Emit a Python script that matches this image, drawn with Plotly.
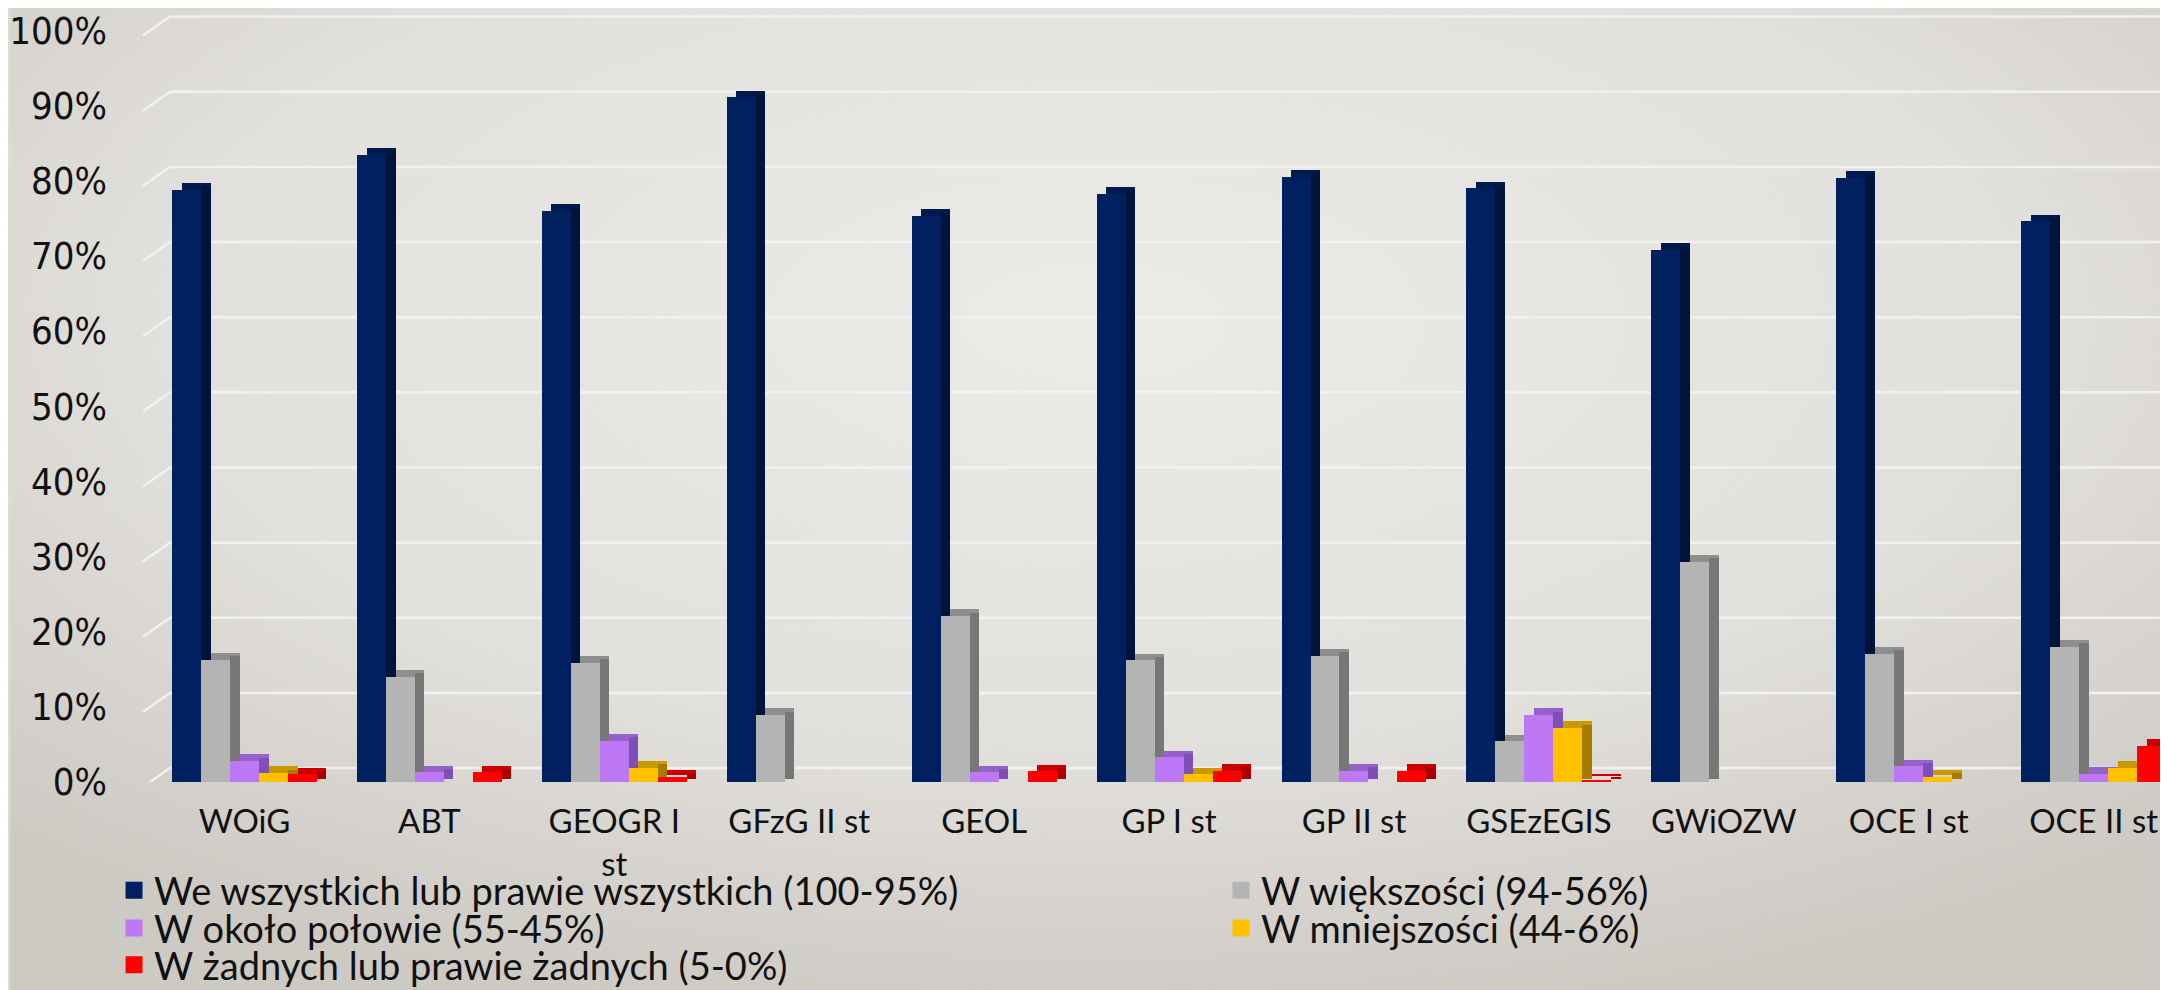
import base64
import plotly.graph_objects as go

# ---------------- data ----------------
categories = ["WOiG", "ABT", "GEOGR I<br>st", "GFzG II st", "GEOL", "GP I st",
              "GP II st", "GSEzEGIS", "GWiOZW", "OCE I st", "OCE II st"]

series_names = [
    "We wszystkich lub prawie wszystkich (100-95%)",
    "W większości (94-56%)",
    "W około połowie (55-45%)",
    "W mniejszości (44-6%)",
    "W żadnych lub prawie żadnych (5-0%)",
]

v_all      = [78.8, 83.5, 76.0, 91.1, 75.3, 78.3, 80.5, 79.0, 70.8, 80.4, 74.6]
v_most     = [16.3, 14.0, 15.9, 8.9, 22.1, 16.2, 16.8, 5.4, 29.3, 17.1, 18.0]
v_half     = [2.8, 1.3, 5.5, None, 1.3, 3.3, 1.5, 8.9, None, 2.1, 1.1]
v_minority = [1.2, None, 1.9, None, None, 1.0, None, 7.2, None, 0.7, 1.9]
v_none     = [1.0, 1.3, 0.7, None, 1.4, 1.5, 1.5, 0.2, None, None, 4.8]

y_ticks = list(range(0, 101, 10))
y_tick_labels = [f"{t}%" for t in y_ticks]

# ---------------- style ----------------
front_colors = ["#002060", "#b4b4b4", "#bf78f5", "#ffc000", "#ff0000"]
top_colors   = ["#001a4e", "#8e8e8e", "#9562cc", "#c99a00", "#cc0000"]
side_colors  = ["#00133a", "#777777", "#7f4fb5", "#a67c00", "#ad0000"]

FONT = "Lato, 'Liberation Sans', Arial, sans-serif"
TICK_FONT = "'Liberation Sans Narrow', 'DejaVu Sans Condensed', Lato, sans-serif"
W_FIG, H_FIG = 2168, 990
Y_MAX = 102.2
PX_PER_PCT = 7.55
M_L, M_R, M_B = 142, 1, 212
PLOT_H = PX_PER_PCT * Y_MAX
M_T = H_FIG - M_B - PLOT_H
PLOT_W = W_FIG - M_L - M_R
X_RANGE = [-0.5, 10.44]
px_per_unit = PLOT_W / (X_RANGE[1] - X_RANGE[0])

BAR_W = 29 / px_per_unit          # bar width in category units
DX = 9.6 / px_per_unit            # 3D depth (horizontal)
DY = 6.7 / PX_PER_PCT             # 3D depth (vertical, in %)
GRID_BACK = 14 / PX_PER_PCT       # back-wall gridline lift (3D look)
GRID_FRONT = -5 / PX_PER_PCT      # front end of the floor diagonal
GRID_X0 = (133 - M_L) / PLOT_W    # diagonal start (paper)
GRID_X1 = (160 - M_L) / PLOT_W    # back wall start (paper)
GRID_X2 = (W_FIG - M_L) / PLOT_W

all_series = [v_all, v_most, v_half, v_minority, v_none]

fig = go.Figure()
legend_ids = ["legend", "legend2", "legend3", "legend4", "legend5"]

for i, (name, vals) in enumerate(zip(series_names, all_series)):
    off = -2.5 * BAR_W + i * BAR_W
    # top face (drawn behind, shifted up/right)
    fig.add_trace(go.Bar(
        x=categories, y=vals, base=DY, offset=off + DX, width=BAR_W,
        marker=dict(color=top_colors[i], line=dict(width=0)),
        showlegend=False, hoverinfo="skip"))
    # side face
    fig.add_trace(go.Bar(
        x=categories, y=vals, base=DY * 0.5, offset=off + BAR_W, width=DX,
        marker=dict(color=side_colors[i], line=dict(width=0)),
        showlegend=False, hoverinfo="skip"))
    # front face
    fig.add_trace(go.Bar(
        x=categories, y=vals, offset=off, width=BAR_W, name=name,
        marker=dict(color=front_colors[i], line=dict(width=0)),
        showlegend=False))
    # legend entry (no marks, bigger swatch)
    fig.add_trace(go.Bar(
        x=[None], y=[None], name=name,
        marker=dict(color=front_colors[i], line=dict(color=front_colors[i], width=5)),
        legend=legend_ids[i], showlegend=True))

# 3D-style gridlines (back wall + floor diagonal) at each tick value
shapes = []
for t in y_ticks:
    line = dict(color="#f2f1ef", width=2.5)
    shapes.append(dict(type="line", xref="paper", yref="y", layer="below",
                       x0=GRID_X1, x1=GRID_X2, y0=t + GRID_BACK, y1=t + GRID_BACK, line=line))
    shapes.append(dict(type="line", xref="paper", yref="y", layer="below",
                       x0=GRID_X0, x1=GRID_X1, y0=t + GRID_FRONT, y1=t + GRID_BACK, line=line))

# background gradient
svg = (f'<svg xmlns="http://www.w3.org/2000/svg" width="{W_FIG}" height="{H_FIG}">'
       '<defs><radialGradient id="g" cx="0.5" cy="0.32" r="0.72">'
       '<stop offset="0" stop-color="#ecebe8"/><stop offset="0.6" stop-color="#e2e0dc"/>'
       '<stop offset="1" stop-color="#cdc9c3"/></radialGradient></defs>'
       f'<rect width="{W_FIG}" height="{H_FIG}" fill="url(#g)"/></svg>')
bg_src = "data:image/svg+xml;base64," + base64.b64encode(svg.encode()).decode()

legend_px = [(104, 887), (1212, 887), (104, 925), (1212, 925), (104, 962)]
legends = {}
for lid, (lx, ly) in zip(legend_ids, legend_px):
    legends[lid] = dict(
        x=(lx - M_L) / PLOT_W, y=(H_FIG - M_B - ly) / PLOT_H,
        xanchor="left", yanchor="middle", orientation="v",
        bgcolor="rgba(0,0,0,0)", borderwidth=0,
        font=dict(family=FONT, size=38, color="#111111"))

fig.update_layout(
    width=W_FIG, height=H_FIG,
    margin=dict(l=M_L, r=M_R, t=M_T, b=M_B),
    paper_bgcolor="#dedbd7", plot_bgcolor="rgba(0,0,0,0)",
    barmode="overlay", bargap=0,
    font=dict(family=FONT, color="#111111"),
    images=[dict(source=bg_src, xref="paper", yref="paper",
                 x=-M_L / PLOT_W, y=1 + M_T / PLOT_H,
                 sizex=W_FIG / PLOT_W, sizey=H_FIG / PLOT_H,
                 sizing="stretch", xanchor="left", yanchor="top", layer="below")],
    shapes=shapes,
    xaxis=dict(range=X_RANGE, showgrid=False, zeroline=False, showline=False,
               ticks="", tickfont=dict(family=FONT, size=33, color="#111111"),
               ticklabelstandoff=17, fixedrange=True),
    yaxis=dict(range=[0, Y_MAX], tickvals=y_ticks, ticktext=y_tick_labels,
               showgrid=False, zeroline=False, showline=False, ticks="",
               tickfont=dict(family=TICK_FONT, size=38, color="#111111"),
               ticklabelstandoff=44, ticklabeloverflow="allow", fixedrange=True),
    **legends,
)

fig.write_html("out.html")
